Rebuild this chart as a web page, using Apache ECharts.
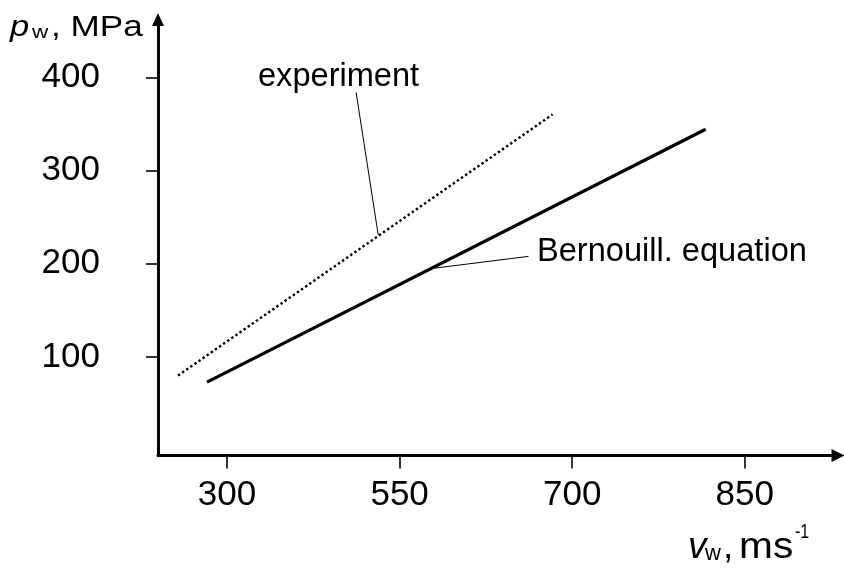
<!DOCTYPE html>
<html><head><meta charset="utf-8">
<script src="https://cdn.jsdelivr.net/npm/echarts@6/dist/echarts.min.js"></script>
<style>html,body{margin:0;padding:0;background:#fff}#chart{width:844px;height:568px}</style>
</head><body><div id="chart"></div>
<script>
// ---- data ----
const xTickValues = [300, 550, 700, 850];
const xTickLabels = ['300', '550', '700', '850'];
const yTickValues = [100, 200, 300, 400];
const yTickLabels = ['100', '200', '300', '400'];
const experimentV = [229, 683];
const experimentP = [80, 360.5];
const bernoulliV = [271, 816];
const bernoulliP = [73, 344.5];
const experimentLeaderV = [519, 487];
const experimentLeaderP = [231, 384];
const bernoulliLeaderV = [578, 662];
const bernoulliLeaderP = [195, 208];
const labelExperiment = 'experiment';
const labelBernoulli = 'Bernouill. equation';

const FONT = "'Liberation Sans', Arial, sans-serif";

// the drawn x axis places its labelled ticks at equal spacing: map v_w to tick position
function toAxis(v) {
  const t = xTickValues;
  let i = 0;
  if (v >= t[t.length - 1]) i = t.length - 2;
  else if (v > t[0]) { while (v > t[i + 1]) i++; }
  return i + (v - t[i]) / (t[i + 1] - t[i]);
}
function pts(vs, ps) { return vs.map((v, k) => [toAxis(v), ps[k]]); }
function leader(vs, ps) { return [[{ coord: [toAxis(vs[0]), ps[0]] }, { coord: [toAxis(vs[1]), ps[1]] }]]; }

const chart = echarts.init(document.getElementById('chart'), null, { renderer: 'canvas' });

function txt(text, x, y, size, opts) {
  opts = opts || {};
  return {
    type: 'text', x: x, y: y, scaleX: opts.scaleX || 1, silent: true, z: 100,
    style: {
      text: text, fill: '#000', textAlign: 'left', textVerticalAlign: 'middle',
      font: (opts.italic ? 'italic ' : '') + size + 'px ' + FONT
    }
  };
}

const option = {
  animation: false,
  backgroundColor: '#fff',
  grid: { left: 158, right: 6, top: 19.5, bottom: 112.5, containLabel: false },
  xAxis: {
    type: 'value', min: -0.4, max: 3.54,
    splitLine: { show: false },
    axisLine: { show: true, onZero: false, symbol: ['none', 'triangle'], symbolSize: [13, 13],
      lineStyle: { color: '#000', width: 3 } },
    axisTick: { show: true, inside: false, length: 13, customValues: [0, 1, 2, 3],
      lineStyle: { color: '#000', width: 1.6 } },
    axisLabel: { show: true, customValues: [0, 1, 2, 3], margin: 22,
      formatter: v => xTickLabels[Math.round(v)] || '',
      color: '#000', fontSize: 35, fontFamily: FONT }
  },
  yAxis: {
    type: 'value', min: -5.85, max: 462.4,
    splitLine: { show: false },
    axisLine: { show: true, onZero: false, symbol: ['none', 'triangle'], symbolSize: [12, 13],
      lineStyle: { color: '#000', width: 3, cap: 'square' } },
    axisTick: { show: true, inside: false, length: 12, customValues: yTickValues,
      lineStyle: { color: '#000', width: 1.6 } },
    axisLabel: { show: true, customValues: yTickValues, margin: 58,
      formatter: v => yTickLabels[yTickValues.indexOf(Math.round(v))] || '',
      color: '#000', fontSize: 35, fontFamily: FONT }
  },
  series: [
    {
      name: labelExperiment, type: 'line', data: pts(experimentV, experimentP),
      symbol: 'none', silent: true,
      lineStyle: { color: '#000', width: 2.4, type: [2.4, 2.6], cap: 'butt' },
      markLine: { silent: true, symbol: ['none', 'none'], label: { show: false },
        lineStyle: { color: '#000', width: 1, type: 'solid' },
        data: leader(experimentLeaderV, experimentLeaderP) }
    },
    {
      name: labelBernoulli, type: 'line', data: pts(bernoulliV, bernoulliP),
      symbol: 'none', silent: true,
      lineStyle: { color: '#000', width: 3.2, type: 'solid' },
      markLine: { silent: true, symbol: ['none', 'none'], label: { show: false },
        lineStyle: { color: '#000', width: 1, type: 'solid' },
        data: leader(bernoulliLeaderV, bernoulliLeaderP) }
    }
  ],
  graphic: [
    txt(labelExperiment, 258, 77.2, 32.6),
    txt(labelBernoulli, 537, 251.6, 32.6),
    // y axis name: p_w, MPa
    txt('p', 10, 27.3, 30, { italic: true, scaleX: 1.15 }),
    txt('w', 32, 33, 18, { scaleX: 1.25 }),
    txt(', MPa', 51, 27.3, 30, { scaleX: 1.17 }),
    // x axis name: v_w, ms^-1
    txt('v', 688, 548, 37, { italic: true }),
    txt('w', 705, 554.3, 22),
    txt(',', 723, 548, 37),
    txt('ms', 739, 548, 37, { scaleX: 1.1 }),
    txt('-1', 795, 532.3, 20, { scaleX: 0.8 })
  ]
};
chart.setOption(option);
</script>
</body></html>
